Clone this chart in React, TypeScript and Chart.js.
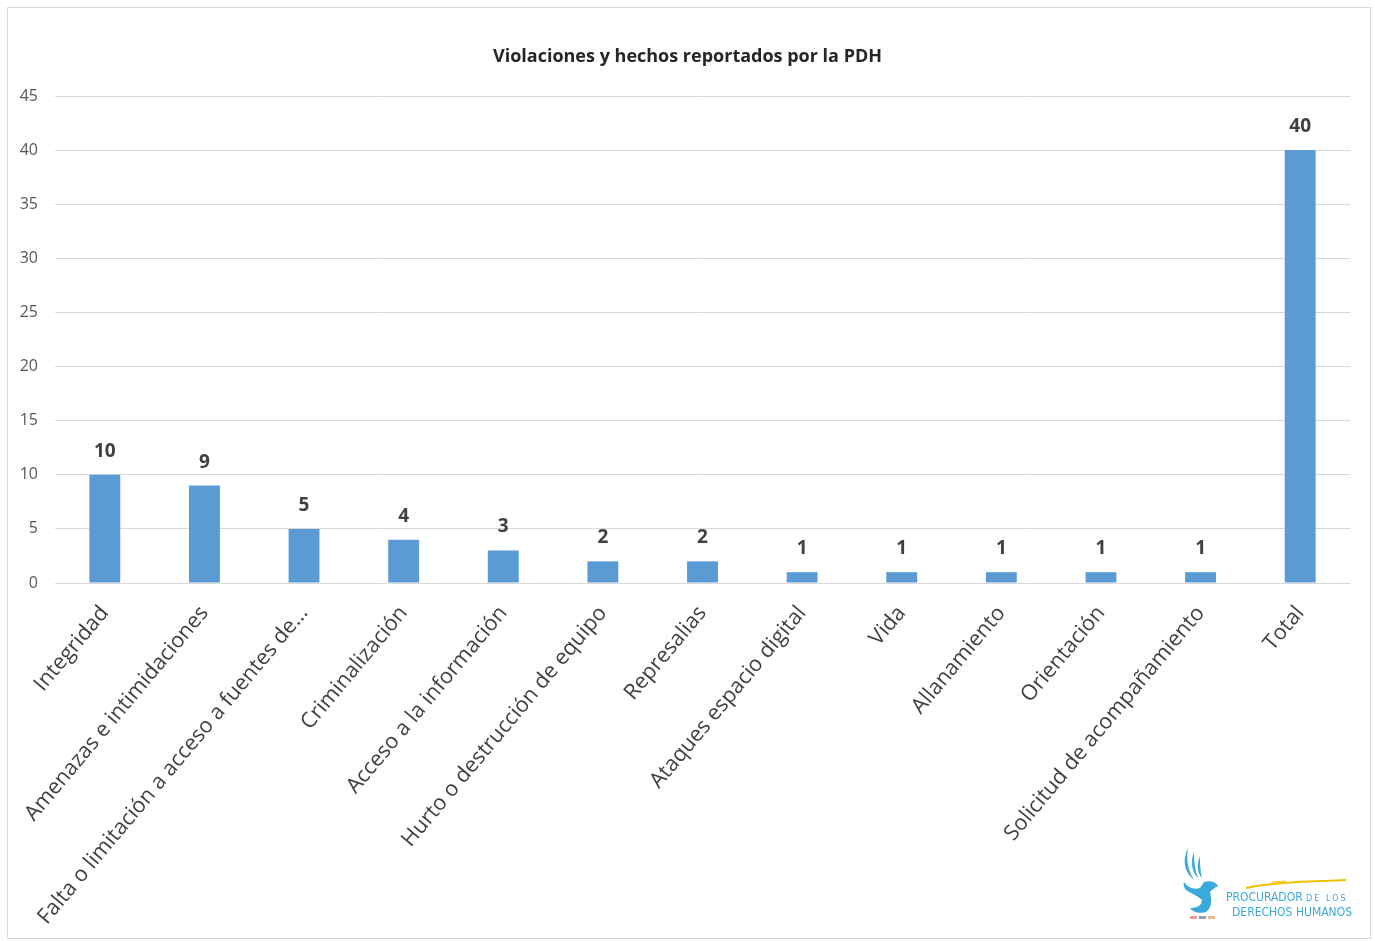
import React, { useEffect, useRef } from "react";
import { Chart, registerables } from "chart.js";

Chart.register(...registerables);

const categories = [
  "Integridad",
  "Amenazas e intimidaciones",
  "Falta o limitación a acceso a fuentes de...",
  "Criminalización",
  "Acceso a la información",
  "Hurto o destrucción de equipo",
  "Represalias",
  "Ataques espacio digital",
  "Vida",
  "Allanamiento",
  "Orientación",
  "Solicitud de acompañamiento",
  "Total",
];
const values = [10, 9, 5, 4, 3, 2, 2, 1, 1, 1, 1, 1, 40];
const titleText = "Violaciones y hechos reportados por la PDH";
const yMax = 45;
const yStep = 5;

const valueLabels = {
  id: "valueLabels",
  afterDatasetsDraw(chart: any) {
    const ctx = chart.ctx;
    const meta = chart.getDatasetMeta(0);
    ctx.save();
    ctx.font = "bold 19px 'Open Sans', sans-serif";
    ctx.fillStyle = "#404040";
    ctx.textAlign = "center";
    ctx.textBaseline = "bottom";
    meta.data.forEach((el: any, i: number) => {
      ctx.fillText(String(values[i]), el.x, el.y - 14);
    });
    ctx.restore();
  },
};

const centeredTitle = {
  id: "centeredTitle",
  afterDraw(chart: any) {
    const ctx = chart.ctx;
    ctx.save();
    ctx.font = "bold 18px 'Open Sans', sans-serif";
    ctx.fillStyle = "#262626";
    ctx.textAlign = "center";
    ctx.textBaseline = "middle";
    ctx.fillText(titleText, chart.width / 2, 57);
    ctx.restore();
  },
};

export default function App() {
  const ref = useRef<HTMLCanvasElement>(null);
  useEffect(() => {
    if (!ref.current) return;
    const chart = new Chart(ref.current, {
      type: "bar",
      data: {
        labels: categories,
        datasets: [
          {
            data: values,
            backgroundColor: "#5B9BD5",
            categoryPercentage: 1,
            barPercentage: 0.31,
          },
        ],
      },
      options: {
        animation: false,
        responsive: false,
        layout: { padding: { left: 0, right: 25, top: 96, bottom: 0 } },
        plugins: {
          legend: { display: false },
          tooltip: { enabled: false },
          title: { display: false },
        },
        scales: {
          x: {
            grid: { display: false, drawTicks: false },
            border: { display: false },
            ticks: {
              color: "#404040",
              font: { family: "'Open Sans', sans-serif", size: 21.5 },
              minRotation: 50,
              maxRotation: 50,
              autoSkip: false,
              padding: 18,
            },
            afterFit(scale: any) {
              scale.height = 941 - 583;
            },
          },
          y: {
            min: 0,
            max: yMax,
            grid: { color: "#d9d9d9", drawTicks: false, lineWidth: 1 },
            border: { display: false },
            ticks: {
              stepSize: yStep,
              color: "#595959",
              font: { family: "'Open Sans', sans-serif", size: 16 },
              padding: 17,
            },
            afterFit(scale: any) {
              scale.width = 55;
            },
          },
        },
      },
      plugins: [valueLabels, centeredTitle],
    });
    return () => chart.destroy();
  }, []);

  return (
    <div style={{ position: "absolute", left: 0, top: 0, width: 1375, height: 941, background: "#fff" }}>
      <div
        style={{
          position: "absolute",
          left: 7,
          top: 7,
          width: 1362,
          height: 930,
          border: "1px solid #d9d9d9",
        }}
      />
      <canvas ref={ref} width={1375} height={941} style={{ position: "absolute", left: 0, top: 0 }} />
      <div style={{ position: "absolute", left: 1180, top: 846, width: 180, height: 80 }}>
        <svg width="50" height="76" style={{ position: "absolute", left: 0, top: 0 }}>
          <path d="M8 2 C 2 14, 4 26, 14 34 C 8 24, 6 14, 8 2 Z" fill="#3aa9dc" />
          <path d="M14 6 C 10 16, 12 26, 18 32 C 15 24, 14 16, 14 6 Z" fill="#3aa9dc" />
          <path d="M20 10 C 16 20, 18 28, 22 32 C 20 24, 20 18, 20 10 Z" fill="#3aa9dc" />
          <path d="M4 36 C 8 42, 14 44, 20 42 L 24 36 C 30 34, 36 36, 38 40 C 34 42, 32 44, 30 46 C 32 54, 32 62, 26 66 C 20 68, 12 66, 10 62 C 16 62, 22 60, 22 54 C 18 50, 12 48, 6 44 C 4 42, 3 39, 4 36 Z" fill="#3aa9dc" />
          <rect x="10" y="70" width="7" height="3" fill="#e99" />
          <rect x="19" y="70" width="7" height="3" fill="#99b" />
          <rect x="28" y="70" width="7" height="3" fill="#eb8" />
        </svg>
        <svg width="120" height="20" style={{ position: "absolute", left: 62, top: 30 }}>
          <path d="M4 12 C 30 6, 60 6, 104 4" stroke="#f0c000" strokeWidth="2" fill="none" />
          <path d="M30 6 L 44 5" stroke="#f0c000" strokeWidth="1" fill="none" />
        </svg>
        <div
          style={{
            position: "absolute",
            left: 46,
            top: 44,
            color: "#3aa9dc",
            fontFamily: "'Liberation Sans Narrow', 'DejaVu Sans Condensed', sans-serif",
            fontSize: 12,
            lineHeight: "14px",
            whiteSpace: "nowrap",
          }}
        >
          <div>PROCURADOR <span style={{ fontSize: 9, letterSpacing: 2 }}>DE LOS</span></div>
          <div style={{ paddingLeft: 6 }}>DERECHOS HUMANOS</div>
        </div>
      </div>
    </div>
  );
}
